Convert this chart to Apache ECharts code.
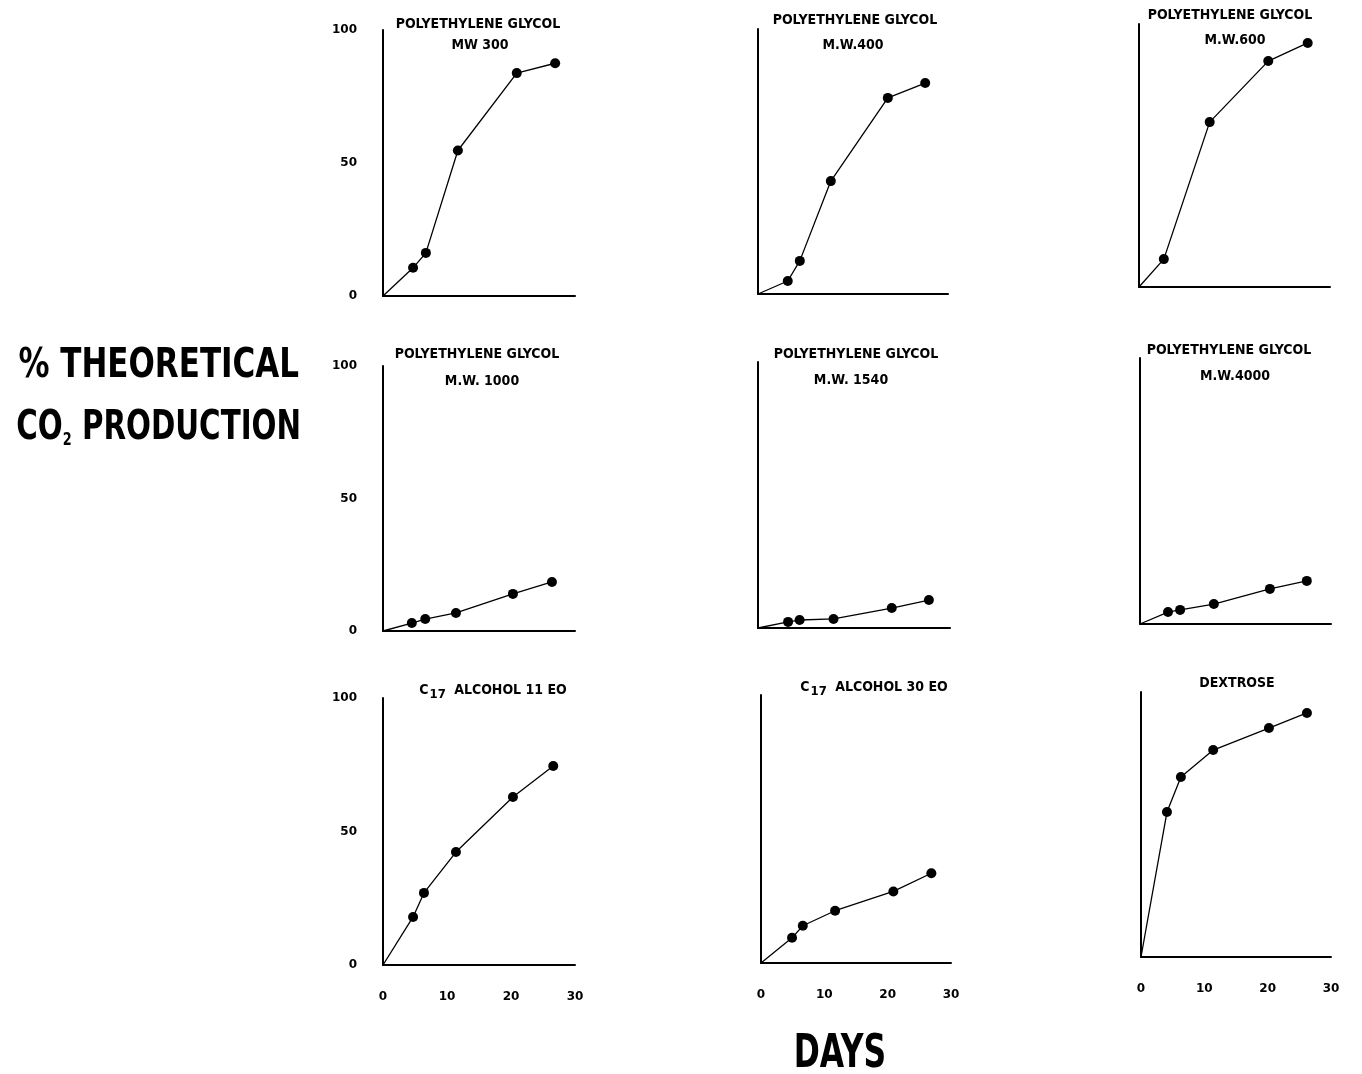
<!DOCTYPE html>
<html>
<head>
<meta charset="utf-8">
<script src="https://cdn.jsdelivr.net/npm/echarts@6/dist/echarts.min.js"></script>
<style>
html,body{margin:0;padding:0;background:#fff;}
#chart{width:1362px;height:1074px;}
</style>
</head>
<body>
<div id="chart"></div>
<script>
// ---- data (days, % theoretical CO2) ----
var daysTicks = [0, 10, 20, 30];
var pctTicks = [0, 50, 100];

var peg300Days  = [0, 4.7, 6.7, 11.7, 20.9, 26.9];
var peg300Vals  = [0, 10.6, 16.2, 54.7, 83.8, 87.5];
var peg400Days  = [0, 4.7, 6.6, 11.5, 20.5, 26.4];
var peg400Vals  = [0, 4.9, 12.5, 42.6, 74.0, 79.6];
var peg600Days  = [0, 3.9, 11.1, 20.3, 26.5];
var peg600Vals  = [0, 10.6, 62.7, 85.9, 92.8];
var peg1000Days = [0, 4.5, 6.6, 11.4, 20.3, 26.4];
var peg1000Vals = [0, 3.0, 4.5, 6.8, 14.0, 18.5];
var peg1540Days = [0, 4.7, 6.5, 11.8, 20.9, 26.7];
var peg1540Vals = [0, 2.3, 3.0, 3.4, 7.5, 10.5];
var peg4000Days = [0, 4.4, 6.3, 11.6, 20.4, 26.2];
var peg4000Vals = [0, 4.5, 5.3, 7.5, 13.2, 16.2];
var c17eo11Days = [0, 4.7, 6.4, 11.4, 20.3, 26.6];
var c17eo11Vals = [0, 18.0, 27.0, 42.3, 62.9, 74.5];
var c17eo30Days = [0, 4.9, 6.6, 11.7, 20.9, 26.9];
var c17eo30Vals = [0, 9.4, 13.9, 19.5, 26.7, 33.5];
var dextroseDays = [0, 4.1, 6.3, 11.4, 20.2, 26.2];
var dextroseVals = [0, 54.7, 67.9, 78.1, 86.4, 92.1];

var panelTitles = [
  ["POLYETHYLENE GLYCOL", "MW 300"],
  ["POLYETHYLENE GLYCOL", "M.W.400"],
  ["POLYETHYLENE GLYCOL", "M.W.600"],
  ["POLYETHYLENE GLYCOL", "M.W. 1000"],
  ["POLYETHYLENE GLYCOL", "M.W. 1540"],
  ["POLYETHYLENE GLYCOL", "M.W.4000"],
  ["C{s|17} ALCOHOL 11 EO"],
  ["C{s|17} ALCOHOL 30 EO"],
  ["DEXTROSE"]
];
var yAxisTitle = ["% THEORETICAL", "CO{sub|2} PRODUCTION"];
var xAxisTitle = "DAYS";

var panels = [
  [peg300Days, peg300Vals], [peg400Days, peg400Vals], [peg600Days, peg600Vals],
  [peg1000Days, peg1000Vals], [peg1540Days, peg1540Vals], [peg4000Days, peg4000Vals],
  [c17eo11Days, c17eo11Vals], [c17eo30Days, c17eo30Vals], [dextroseDays, dextroseVals]
];

// ---- layout ----
// [left, top, right edge, bottom edge]
var boxes = [
  [383, 30, 575, 296], [758, 29, 948, 294], [1139, 24, 1330, 287],
  [383, 366, 575, 631], [758, 362, 950, 628], [1140, 358, 1331, 624],
  [383, 698, 575, 965], [761, 695, 951, 963], [1141, 692, 1331, 957]
];
var titlePos = [
  [[478, 24], [480, 45]], [[855, 20], [853, 45]], [[1230, 15], [1235, 40]],
  [[477, 354], [482, 381]], [[856, 354], [851, 380]], [[1229, 350], [1235, 376]],
  [[493, 690]], [[874, 687]], [[1237, 683]]
];

var condensed = "'Liberation Sans Narrow', 'DejaVu Sans Condensed', 'Roboto Condensed', sans-serif";
var tickFont = {fontFamily: 'DejaVu Sans', fontWeight: 'bold', fontSize: 12, color: '#000'};

var grids = [], xAxes = [], yAxes = [], series = [], graphics = [];
boxes.forEach(function (b, i) {
  var col = i % 3, row = Math.floor(i / 3);
  grids.push({left: b[0], top: b[1], width: b[2] - b[0], height: b[3] - b[1], containLabel: false});
  xAxes.push({
    type: 'value', gridIndex: i, min: 0, max: 30, interval: 10,
    axisLine: {show: true, onZero: false, lineStyle: {color: '#000', width: 2}},
    axisTick: {show: false}, splitLine: {show: false},
    axisLabel: Object.assign({show: row === 2, margin: 26}, tickFont)
  });
  yAxes.push({
    type: 'value', gridIndex: i, min: 0, max: 100, interval: 50,
    axisLine: {show: true, onZero: false, lineStyle: {color: '#000', width: 2}},
    axisTick: {show: false}, splitLine: {show: false},
    axisLabel: Object.assign({show: col === 0, margin: 26}, tickFont)
  });
  var d = panels[i][0], v = panels[i][1];
  var data = d.map(function (x, k) {
    var item = {value: [x, v[k]]};
    if (k === 0) item.symbol = 'none';
    return item;
  });
  series.push({
    type: 'line', xAxisIndex: i, yAxisIndex: i, data: data,
    symbol: 'circle', symbolSize: 10, showSymbol: true,
    lineStyle: {color: '#000', width: 1.3},
    itemStyle: {color: '#000'},
    animation: false, silent: true
  });
  panelTitles[i].forEach(function (t, k) {
    var p = titlePos[i][k];
    graphics.push({
      type: 'text', x: p[0], y: p[1],
      style: {
        text: t, textAlign: 'center', textVerticalAlign: 'middle',
        fontFamily: condensed, fontWeight: 'bold', fontSize: 14, fill: '#000',
        rich: {s: {fontSize: 13, fontFamily: condensed, fontWeight: 'bold', padding: [9, 4, 0, 1]}}
      }
    });
  });
});

graphics.push({
  type: 'text', x: 299, y: 366, scaleX: 0.84,
  style: {text: yAxisTitle[0], textAlign: 'right', textVerticalAlign: 'middle',
    fontFamily: condensed, fontWeight: 'bold', fontSize: 41, fill: '#000'}
});
graphics.push({
  type: 'text', x: 301, y: 428, scaleX: 0.795,
  style: {text: yAxisTitle[1], textAlign: 'right', textVerticalAlign: 'middle',
    fontFamily: condensed, fontWeight: 'bold', fontSize: 41, fill: '#000',
    rich: {sub: {fontFamily: condensed, fontWeight: 'bold', fontSize: 18, padding: [24, 0, 0, 0]}}}
});
graphics.push({
  type: 'text', x: 840, y: 1055, scaleX: 0.76,
  style: {text: xAxisTitle, textAlign: 'center', textVerticalAlign: 'middle',
    fontFamily: condensed, fontWeight: 'bold', fontSize: 46, fill: '#000'}
});

var chart = echarts.init(document.getElementById('chart'), null, {renderer: 'canvas'});
chart.setOption({
  backgroundColor: '#fff',
  animation: false,
  grid: grids, xAxis: xAxes, yAxis: yAxes, series: series,
  graphic: graphics
});
</script>
</body>
</html>
